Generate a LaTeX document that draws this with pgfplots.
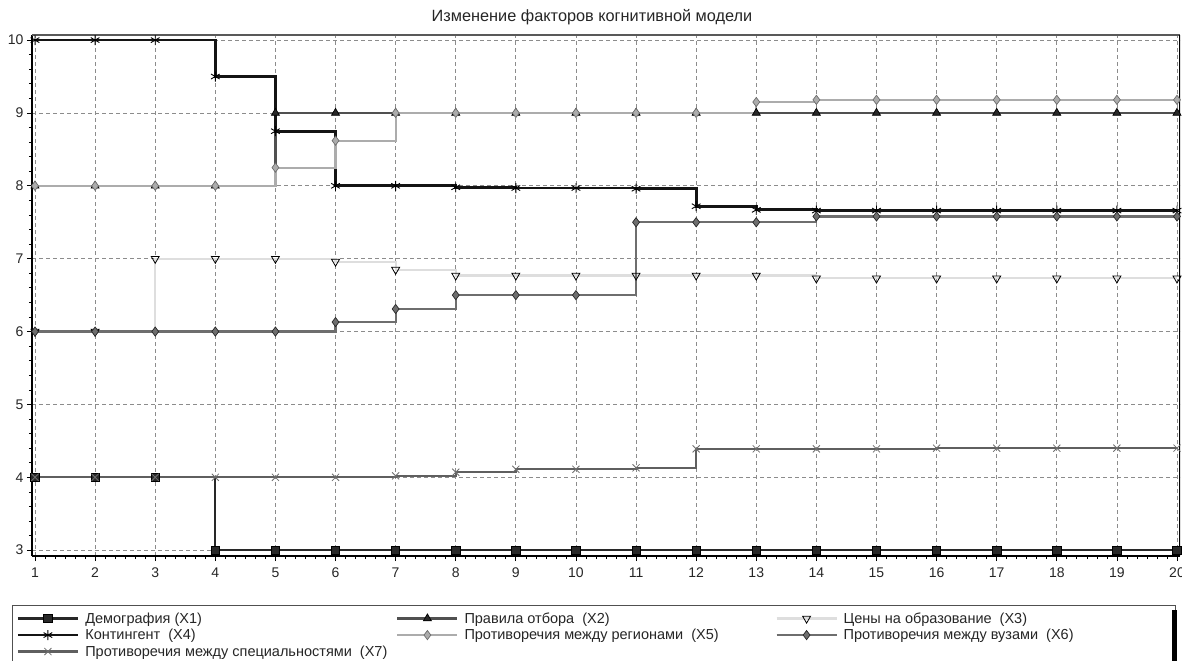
\documentclass[border=0pt]{standalone}
\usepackage{fontspec}
\setmainfont{Liberation Sans}
\usepackage{pgfplots}
\pgfplotsset{compat=1.18}

\definecolor{cX1}{RGB}{40,40,40}
\definecolor{cX2}{RGB}{80,80,80}
\definecolor{cX3}{RGB}{222,222,222}
\definecolor{cX4}{RGB}{20,20,20}
\definecolor{cX5}{RGB}{172,172,172}
\definecolor{cX6}{RGB}{110,110,110}
\definecolor{cX7}{RGB}{95,95,95}
\definecolor{gridgray}{RGB}{140,140,140}

\newcommand{\lbl}[2][309bp]{\makebox[#1][l]{#2}}

\begin{document}
\begin{tikzpicture}
\useasboundingbox (0,0) rectangle (1182bp,661bp);
\node[font=\fontsize{16.3bp}{19bp}\selectfont, text=black!85] at (592bp,644bp) {Изменение факторов когнитивной модели};
\begin{axis}[
  at={(32bp,105bp)}, anchor=south west,
  scale only axis,
  width=1148bp, height=521bp,
  xmin=0.95, xmax=20.05,
  ymin=2.92, ymax=10.07,
  axis x line*=bottom, axis y line*=left,
  xtick={1,...,20}, ytick={3,...,10},
  minor x tick num=5, minor y tick num=4,
  tick align=outside,
  major tick length=5bp, minor tick length=3bp,
  tick style={black, line width=0.7bp},
  grid=major,
  major grid style={gridgray, dash pattern=on 3.5bp off 3.5bp, line width=0.8bp},
  axis line style={black, line width=2bp},
  ticklabel style={font=\fontsize{14bp}{16bp}\selectfont, text=black!85},
  xticklabel style={yshift=-3bp},
  /pgf/number format/assume math mode=true,
  legend columns=3,
  legend cell align=left,
  legend style={
    at={(rel axis cs:-0.0174,-0.0940)}, anchor=north west,
    draw=cX2, line width=1bp,
    font=\fontsize{14.5bp}{16bp}\selectfont,
    text=black!85,
    inner xsep=4bp, inner ysep=5bp,
    row sep=0.5bp,
    /tikz/every odd column/.append style={column sep=4bp},
  },
  legend image code/.code={
    \draw[mark repeat=2, mark phase=2] plot coordinates {(0bp,0bp) (30bp,0bp) (60bp,0bp)};
  },
  const plot,
  every axis plot/.append style={line width=2.2bp},
]
\draw[black!65, line width=1.3bp] (rel axis cs:0,1) -- (rel axis cs:1,1);
\draw[black, line width=2bp] (rel axis cs:1,0) -- (rel axis cs:1,1);
% X1
\addplot[cX1, mark=square*, mark size=4.2bp, mark options={fill=cX1, draw=black, line width=0.7bp}] coordinates {
(1,4) (2,4) (3,4) (4,3) (5,3) (6,3) (7,3) (8,3) (9,3) (10,3)
(11,3) (12,3) (13,3) (14,3) (15,3) (16,3) (17,3) (18,3) (19,3) (20,3)};
\addlegendentry{\lbl{Демография (X1)}}
% X2
\addplot[cX2, mark=triangle*, mark size=4.6bp, mark options={fill=cX1, draw=black, line width=0.7bp}] coordinates {
(1,8) (2,8) (3,8) (4,8) (5,9) (6,9) (7,9) (8,9) (9,9) (10,9)
(11,9) (12,9) (13,9) (14,9) (15,9) (16,9) (17,9) (18,9) (19,9) (20,9)};
\addlegendentry{\lbl{Правила отбора\ \ (X2)}}
% X3
\addplot[cX3, mark=triangle, mark size=4.6bp, mark options={rotate=180, fill=white, draw=black, line width=0.8bp}] coordinates {
(1,6) (2,6) (3,7) (4,7) (5,7) (6,6.96) (7,6.85) (8,6.77) (9,6.77) (10,6.77)
(11,6.77) (12,6.77) (13,6.77) (14,6.73) (15,6.73) (16,6.73) (17,6.73) (18,6.73) (19,6.73) (20,6.73)};
\addlegendentry{\lbl[326bp]{Цены на образование\ \ (X3)}}
% X4
\addplot[cX4, line width=2.8bp, mark=asterisk, mark size=5bp, mark options={draw=black, line width=0.9bp}] coordinates {
(1,10) (2,10) (3,10) (4,9.5) (5,8.75) (6,8.0) (7,8.0) (8,7.98) (9,7.97) (10,7.97)
(11,7.96) (12,7.72) (13,7.67) (14,7.66) (15,7.66) (16,7.66) (17,7.66) (18,7.66) (19,7.66) (20,7.66)};
\addlegendentry{\lbl{Контингент\ \ (X4)}}
% X5
\addplot[cX5, mark=diamond*, mark size=4.6bp, mark options={fill=cX5, draw=cX6, line width=0.7bp}] coordinates {
(1,8) (2,8) (3,8) (4,8) (5,8.25) (6,8.62) (7,9) (8,9) (9,9) (10,9)
(11,9) (12,9) (13,9.15) (14,9.18) (15,9.18) (16,9.18) (17,9.18) (18,9.18) (19,9.18) (20,9.18)};
\addlegendentry{\lbl{Противоречия между регионами\ \ (X5)}}
% X6
\addplot[cX6, mark=diamond*, mark size=4.6bp, mark options={fill=cX6, draw=cX1, line width=0.7bp}] coordinates {
(1,6) (2,6) (3,6) (4,6) (5,6) (6,6.13) (7,6.31) (8,6.5) (9,6.5) (10,6.5)
(11,7.5) (12,7.5) (13,7.5) (14,7.58) (15,7.58) (16,7.58) (17,7.58) (18,7.58) (19,7.58) (20,7.58)};
\addlegendentry{\lbl[326bp]{Противоречия между вузами\ \ (X6)}}
% X7
\addplot[cX7, mark=x, mark size=5bp, mark options={draw=cX6, line width=0.8bp}] coordinates {
(1,4) (2,4) (3,4) (4,4) (5,4) (6,4) (7,4.02) (8,4.07) (9,4.11) (10,4.11)
(11,4.13) (12,4.39) (13,4.39) (14,4.39) (15,4.39) (16,4.4) (17,4.4) (18,4.4) (19,4.4) (20,4.4)};
\addlegendentry{\lbl{Противоречия между специальностями\ \ (X7)}}
\end{axis}
\fill[black] (1172bp,-10bp) rectangle (1176.5bp,51bp);
\end{tikzpicture}
\end{document}
